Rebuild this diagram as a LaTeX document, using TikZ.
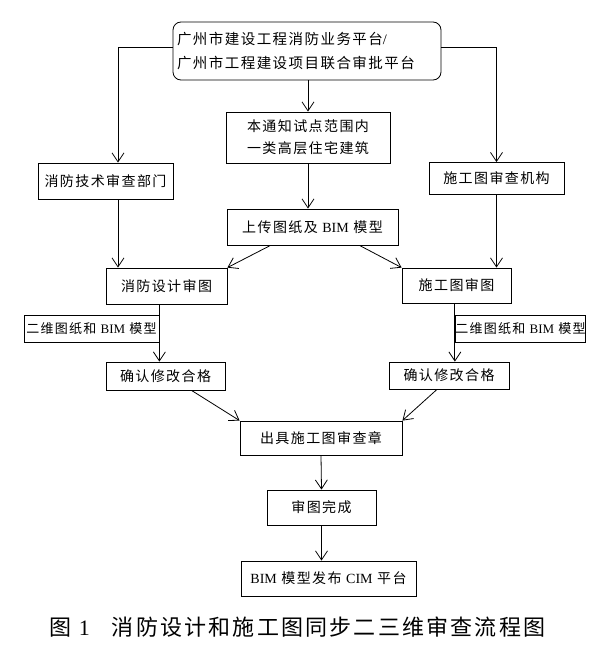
\documentclass[tikz,border=0pt]{standalone}
\usepackage{fontspec}
\setmainfont[LetterSpace=10]{Noto Sans CJK SC}
\newfontfamily\lat{Liberation Serif}
\usetikzlibrary{arrows.meta}
\tikzset{
  bx/.style={draw,line width=0.8pt,inner sep=0pt,align=center,font=\fontsize{14}{22}\selectfont},
  rbx/.style={bx,rounded corners=8pt,font=\fontsize{14.5}{24}\selectfont},
  lbl/.style={bx,font=\fontsize{13}{15}\selectfont},
  arr/.style={line width=0.8pt,-{Straight Barb[length=9pt,width=12pt]}},
  captxt/.style={inner sep=0pt,font=\fontsize{22}{24}\selectfont}
}
\newcommand{\bim}{{\lat BIM}}

\begin{document}
\begin{tikzpicture}[x=1pt,y=-1pt]
\useasboundingbox (0,0) rectangle (594,653);
\node[rbx,minimum width=268pt,minimum height=58pt,text width=260pt,align=left] (plat) at (307,51) {广州市建设工程消防业务平台{\lat /}\\广州市工程建设项目联合审批平台};
\node[bx,minimum width=164pt,minimum height=51pt] (scope) at (308,137.5) {本通知试点范围内\\一类高层住宅建筑};
\node[bx,minimum width=135pt,minimum height=36pt] (fdept) at (105.5,181) {消防技术审查部门};
\node[bx,minimum width=135pt,minimum height=32pt] (rorg) at (496.5,178.5) {施工图审查机构};
\node[bx,minimum width=171pt,minimum height=36pt] (upld) at (312.5,227) {上传图纸及 \bim{} 模型};
\node[bx,minimum width=121pt,minimum height=36pt] (frev) at (166.5,286) {消防设计审图};
\node[bx,minimum width=109pt,minimum height=35pt] (crev) at (456.5,285.5) {施工图审图};
\node[lbl,minimum width=135pt,minimum height=27pt] (llbl) at (91.5,328.5) {二维图纸和 \bim{} 模型};
\node[lbl,minimum width=127pt,minimum height=27pt] (rlbl) at (520.5,328.5) {二维图纸和 \bim{} 模型};
\node[bx,minimum width=119pt,minimum height=28pt] (lok) at (165.5,376) {确认修改合格};
\node[bx,minimum width=120pt,minimum height=27pt] (rok) at (449,375.5) {确认修改合格};
\node[bx,minimum width=162pt,minimum height=34pt] (stamp) at (321,438) {出具施工图审查章};
\node[bx,minimum width=109pt,minimum height=35pt] (done) at (321.5,507.5) {审图完成};
\node[bx,minimum width=175pt,minimum height=35pt] (pub) at (328.5,578.5) {\bim{} 模型发布 {\lat CIM} 平台};
\node[captxt] (title) at (297.5,627) {图 {\lat 1}\quad 消防设计和施工图同步二三维审查流程图};
\coordinate (lbend) at (118,47);
\draw[arr] ([yshift=4pt]plat.west) -- (lbend) -- (lbend |- fdept.north);
\draw[arr] ([yshift=4pt]plat.east) -| (rorg.north);
\draw[arr] (plat.south -| scope.north) -- (scope.north);
\draw[arr] (scope.south) -- (scope.south |- upld.north);
\draw[arr] (fdept.south -| lbend) -- (lbend |- frev.north);
\draw[arr] (rorg.south) -- (rorg.south |- crev.north);
\draw[arr] ([xshift=-42pt]upld.south) -- (frev.north east);
\draw[arr] ([xshift=47pt]upld.south) -- (crev.north west);
\draw[arr] (frev.south -| llbl.east) -- (lok.north -| llbl.east);
\draw[arr] (crev.south -| rlbl.west) -- (rok.north -| rlbl.west);
\draw[arr] ([xshift=26pt]lok.south) -- (stamp.north west);
\draw[arr] ([xshift=-12pt]rok.south) -- (stamp.north east);
\draw[arr] (stamp.south) -- (done.north);
\draw[arr] (done.south) -- (done.south |- pub.north);
\end{tikzpicture}
\end{document}
